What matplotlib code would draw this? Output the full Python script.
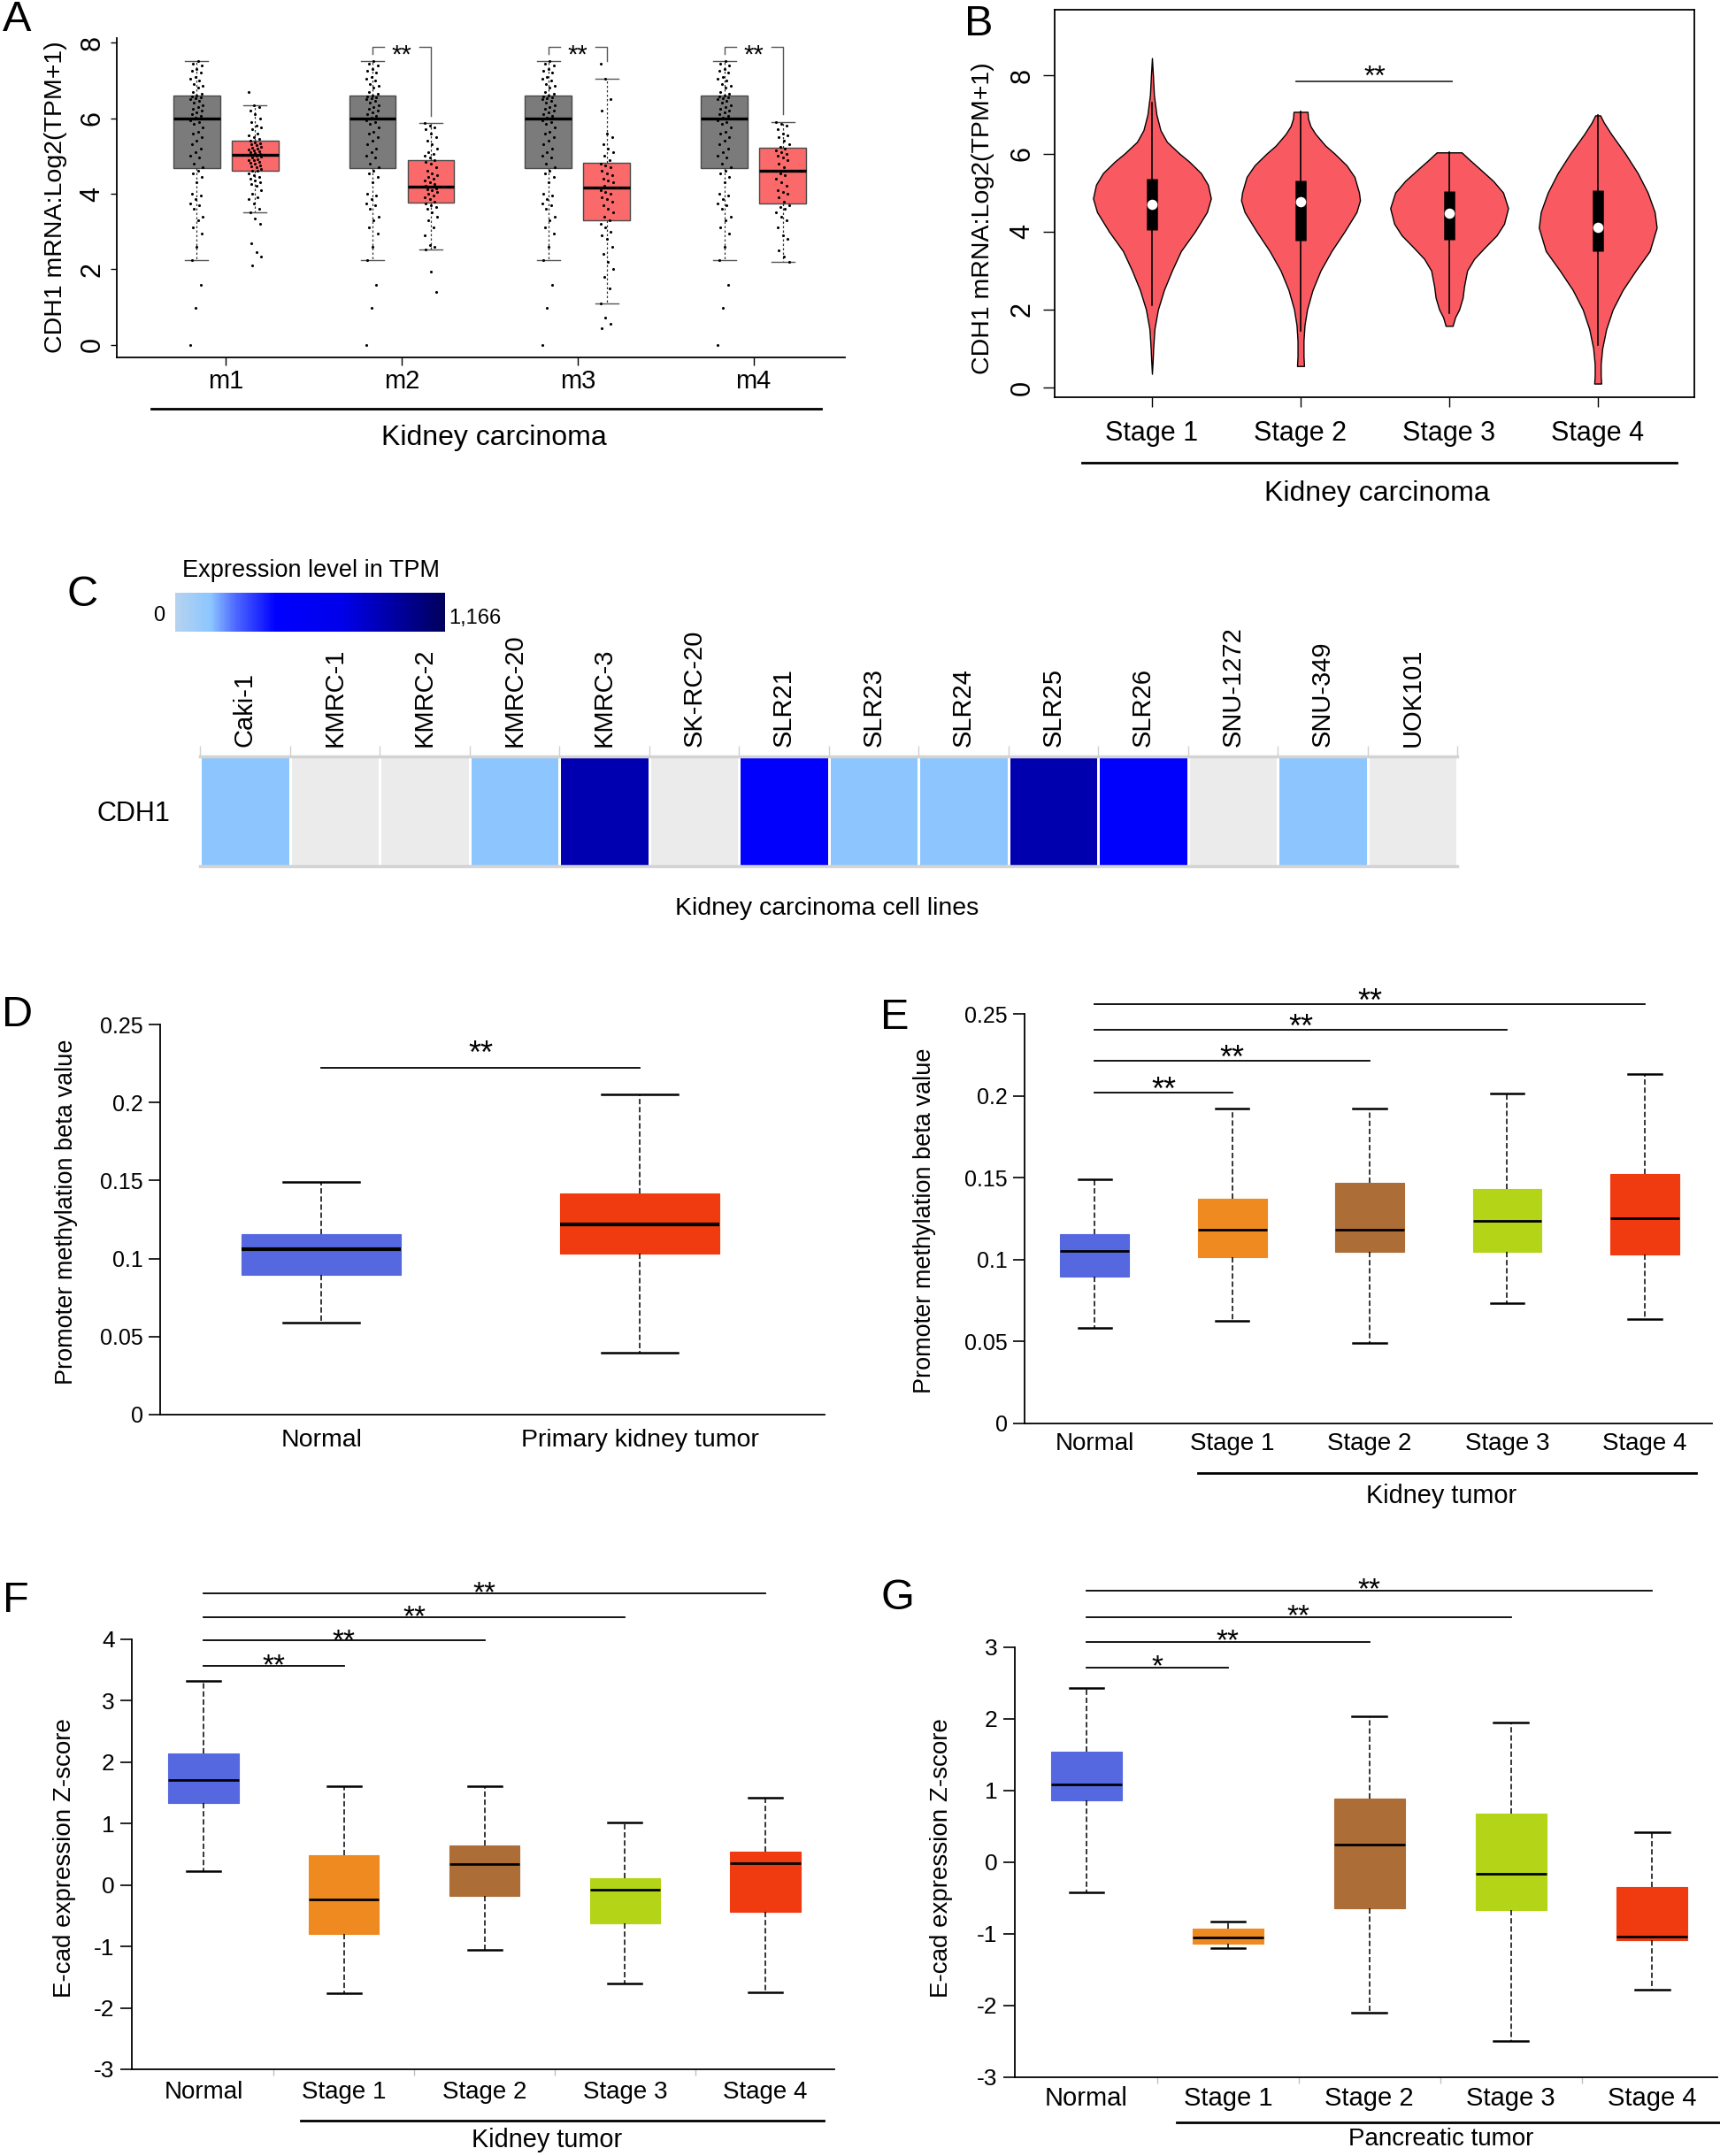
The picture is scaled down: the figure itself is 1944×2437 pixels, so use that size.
import numpy as np
import matplotlib
matplotlib.use('Agg')
import matplotlib.pyplot as plt
from matplotlib.colors import LinearSegmentedColormap

plt.rcParams['font.family'] = ['Liberation Sans', 'DejaVu Sans']

# ---------------- DATA ----------------
# Panel A : CDH1 mRNA, normal (grey) vs tumour (red) for m1..m4
A_groups = ['m1', 'm2', 'm3', 'm4']
A_norm_stats = [2.24, 4.67, 6.0, 6.6, 7.52]           # whislo, q1, med, q3, whishi
A_tum_whislo = [3.5, 2.52, 1.1, 2.2]
A_tum_q1 = [4.6, 3.77, 3.3, 3.75]
A_tum_med = [5.02, 4.18, 4.17, 4.6]
A_tum_q3 = [5.4, 4.9, 4.82, 5.22]
A_tum_whishi = [6.35, 5.88, 7.05, 5.9]
A_norm_points = [0.0, 0.98, 1.6, 2.24, 2.6, 2.95, 3.1, 3.3, 3.4, 3.6, 3.7, 3.75, 3.85, 3.95,
                 4.0, 4.3, 4.45, 4.55, 4.62, 4.7, 4.8, 4.95, 5.0, 5.1, 5.2, 5.3, 5.4, 5.5, 5.6,
                 5.65, 5.75, 5.85, 5.9, 5.95, 6.02, 6.05, 6.1, 6.15, 6.2, 6.25, 6.3, 6.35, 6.4,
                 6.45, 6.5, 6.52, 6.55, 6.58, 6.6, 6.65, 6.7, 6.8, 6.85, 6.9, 7.0, 7.05, 7.1,
                 7.2, 7.25, 7.3, 7.4, 7.45, 7.5]
A_tum_points_m1 = [2.1, 2.35, 2.45, 2.7, 3.2, 3.35, 3.5, 3.6, 3.75, 3.85, 3.9, 4.0, 4.1, 4.2,
                   4.25, 4.3, 4.35, 4.4, 4.45, 4.5, 4.55, 4.6, 4.62, 4.65, 4.7, 4.72, 4.75, 4.8,
                   4.82, 4.85, 4.88, 4.9, 4.92, 4.95, 4.98, 5.0, 5.03, 5.05, 5.08, 5.1, 5.12,
                   5.15, 5.18, 5.2, 5.22, 5.25, 5.28, 5.3, 5.33, 5.36, 5.4, 5.45, 5.5, 5.55,
                   5.6, 5.7, 5.75, 5.8, 5.9, 6.0, 6.1, 6.2, 6.3, 6.35, 6.7]
A_tum_points_m2 = [1.4, 1.95, 2.52, 2.6, 2.65, 2.9, 3.1, 3.3, 3.4, 3.5, 3.6, 3.65, 3.7, 3.75,
                   3.8, 3.85, 3.9, 3.95, 4.0, 4.05, 4.1, 4.12, 4.15, 4.18, 4.2, 4.25, 4.3, 4.35,
                   4.4, 4.45, 4.5, 4.55, 4.6, 4.7, 4.8, 4.85, 4.9, 4.95, 5.0, 5.05, 5.1, 5.2,
                   5.3, 5.4, 5.5, 5.6, 5.7, 5.75, 5.8, 5.88]
A_tum_points_m3 = [0.45, 0.55, 0.72, 1.1, 1.5, 1.8, 2.0, 2.2, 2.4, 2.6, 2.8, 2.9, 3.0, 3.1,
                   3.2, 3.3, 3.4, 3.5, 3.6, 3.7, 3.8, 3.85, 3.9, 4.0, 4.05, 4.1, 4.17, 4.2,
                   4.3, 4.35, 4.4, 4.5, 4.55, 4.6, 4.7, 4.75, 4.8, 4.9, 5.0, 5.1, 5.2, 5.3,
                   5.5, 5.6, 6.2, 6.5, 7.05, 7.44]
A_tum_points_m4 = [2.2, 2.35, 2.5, 2.8, 2.9, 3.1, 3.3, 3.4, 3.5, 3.6, 3.65, 3.7, 3.8, 3.9,
                   4.0, 4.05, 4.1, 4.2, 4.3, 4.4, 4.5, 4.55, 4.62, 4.7, 4.8, 4.9, 4.95, 5.0,
                   5.05, 5.1, 5.15, 5.2, 5.25, 5.3, 5.4, 5.5, 5.55, 5.6, 5.7, 5.8, 5.85, 5.9]
A_tum_points = [A_tum_points_m1, A_tum_points_m2, A_tum_points_m3, A_tum_points_m4]
A_sig_groups = [1, 2, 3]
A_sig_y = 7.88
A_sig_left_end = [7.7, 7.7, 7.7]
A_sig_right_end = [6.05, 7.5, 6.1]

# Panel B : violin by stage
B_stages = ['Stage 1', 'Stage 2', 'Stage 3', 'Stage 4']
B_q1 = [4.03, 3.77, 3.8, 3.5]
B_med = [4.7, 4.77, 4.47, 4.1]
B_q3 = [5.35, 5.32, 5.03, 5.06]
B_whislo = [2.1, 1.45, 1.9, 1.1]
B_whishi = [7.3, 7.07, 6.03, 6.98]
B_prof_y = [
    [0.35, 0.7, 1.0, 1.5, 2.0, 2.5, 3.0, 3.5, 4.0, 4.5, 4.85, 5.2, 5.5, 5.8, 6.0, 6.3, 6.6, 7.0, 7.5, 8.0, 8.45],
    [0.55, 0.8, 1.2, 1.6, 2.0, 2.5, 3.0, 3.5, 4.0, 4.5, 4.8, 5.0, 5.4, 5.7, 6.0, 6.2, 6.5, 6.7, 6.9, 7.07],
    [1.58, 1.8, 2.0, 2.3, 2.6, 3.0, 3.3, 3.6, 3.9, 4.2, 4.6, 5.0, 5.3, 5.6, 5.85, 6.03],
    [0.1, 0.3, 0.6, 1.0, 1.5, 2.0, 2.5, 3.0, 3.5, 4.1, 4.5, 5.0, 5.5, 6.0, 6.5, 6.8, 6.98],
]
B_prof_w = [
    [0, 1.5, 2.5, 5, 12, 24, 40, 58, 86, 110, 118, 112, 98, 74, 55, 30, 17, 9, 4, 2, 0],
    [7, 6, 6, 8, 13, 24, 40, 62, 88, 112, 119, 117, 108, 92, 68, 50, 30, 20, 15, 14],
    [7, 12, 20, 27, 30, 36, 50, 72, 95, 110, 118, 108, 88, 62, 40, 25],
    [7, 6, 6, 9, 17, 30, 50, 76, 104, 118, 114, 100, 80, 55, 27, 12, 5],
]
B_sig = (1, 2, 7.86, '**')

# Panel C : heatmap of cell lines
C_lines = ['Caki-1', 'KMRC-1', 'KMRC-2', 'KMRC-20', 'KMRC-3', 'SK-RC-20', 'SLR21', 'SLR23',
           'SLR24', 'SLR25', 'SLR26', 'SNU-1272', 'SNU-349', 'UOK101']
C_tpm = [150, np.nan, np.nan, 150, 900, np.nan, 466, 150, 150, 910, 460, np.nan, 150, np.nan]
C_vmax = 1166

# Panel D : promoter methylation normal vs tumour
D_groups = ['Normal', 'Primary kidney tumor']
D_whislo = [0.0587, 0.0395]
D_q1 = [0.0895, 0.103]
D_med = [0.106, 0.122]
D_q3 = [0.1155, 0.142]
D_whishi = [0.149, 0.205]
D_sig = [(0, 1, 0.2225, '**')]

# Panel E : promoter methylation by stage
E_groups = ['Normal', 'Stage 1', 'Stage 2', 'Stage 3', 'Stage 4']
E_whislo = [0.0585, 0.0625, 0.049, 0.0735, 0.0635]
E_q1 = [0.0895, 0.1013, 0.1049, 0.1049, 0.1030]
E_med = [0.1052, 0.1181, 0.1181, 0.1235, 0.1252]
E_q3 = [0.1155, 0.1372, 0.1467, 0.1429, 0.1522]
E_whishi = [0.149, 0.192, 0.192, 0.2013, 0.2135]
E_sig = [(0, 1, 0.2022, '**'), (0, 2, 0.2212, '**'), (0, 3, 0.2405, '**'), (0, 4, 0.2562, '**')]

# Panel F : E-cad z-score, kidney
F_groups = ['Normal', 'Stage 1', 'Stage 2', 'Stage 3', 'Stage 4']
F_whislo = [0.22, -1.76, -1.05, -1.61, -1.74]
F_q1 = [1.34, -0.79, -0.18, -0.63, -0.43]
F_med = [1.71, -0.24, 0.34, -0.08, 0.36]
F_q3 = [2.14, 0.48, 0.64, 0.11, 0.55]
F_whishi = [3.33, 1.61, 1.61, 1.02, 1.42]
F_sig = [(0, 1, 3.57, '**'), (0, 2, 3.98, '**'), (0, 3, 4.36, '**'), (0, 4, 4.75, '**')]

# Panel G : E-cad z-score, pancreas
G_groups = ['Normal', 'Stage 1', 'Stage 2', 'Stage 3', 'Stage 4']
G_whislo = [-0.43, -1.2, -2.1, -2.5, -1.78]
G_q1 = [0.86, -1.14, -0.65, -0.67, -1.09]
G_med = [1.08, -1.05, 0.24, -0.17, -1.04]
G_q3 = [1.54, -0.93, 0.88, 0.67, -0.35]
G_whishi = [2.42, -0.83, 2.03, 1.95, 0.41]
G_sig = [(0, 1, 2.71, '*'), (0, 2, 3.07, '**'), (0, 3, 3.41, '**'), (0, 4, 3.78, '**')]

STAGE_COLORS = ['#5568E0', '#EE8A1F', '#AC6D37', '#B3D417', '#F03A10']

# ---------------- FIGURE ----------------
W, H = 1944, 2437
fig = plt.figure(figsize=(W / 100, H / 100), dpi=100)
fig.patch.set_facecolor('white')


def add_ax(l, t, r, b):
    ax = fig.add_axes([l / W, 1 - b / H, (r - l) / W, (b - t) / H])
    ax._px = (l, t, r, b)
    return ax


def ylab(ax, text, px_x, px_y, size):
    l, t, r, b = ax._px
    ax.set_ylabel(text, fontsize=size)
    ax.yaxis.set_label_coords((px_x - l) / (r - l), (b - px_y) / (b - t))
    ax.yaxis.label.set_va('center')
    ax.yaxis.label.set_ha('center')


over = fig.add_axes([0, 0, 1, 1])
over.set_xlim(0, W)
over.set_ylim(H, 0)
over.axis('off')
over.patch.set_visible(False)


def jit(n):
    return ((np.arange(n) * 37) % 11 - 5) / 5 * 0.036


# ---------- Panel A ----------
axA = add_ax(132, 43, 955, 404)
axA.set_xlim(-0.62, 3.52)
axA.set_ylim(-0.33, 8.12)
posA = np.arange(len(A_groups))
stA_n = [dict(whislo=A_norm_stats[0], q1=A_norm_stats[1], med=A_norm_stats[2],
              q3=A_norm_stats[3], whishi=A_norm_stats[4], fliers=[]) for _ in A_groups]
stA_t = [dict(whislo=A_tum_whislo[i], q1=A_tum_q1[i], med=A_tum_med[i], q3=A_tum_q3[i],
              whishi=A_tum_whishi[i], fliers=[]) for i in range(len(A_groups))]
for st, off, col in [(stA_n, -0.166, '#7B7B7B'), (stA_t, 0.166, '#FA6A6A')]:
    axA.bxp(st, positions=posA + off, widths=0.265, patch_artist=True, showfliers=False,
            manage_ticks=False, capwidths=0.13,
            boxprops=dict(facecolor=col, edgecolor='#4A4A4A', linewidth=1.0),
            medianprops=dict(color='black', linewidth=2.4),
            whiskerprops=dict(color='#333333', linewidth=0.9, linestyle=(0, (2, 2))),
            capprops=dict(color='#555555', linewidth=1.0))
for i in range(len(A_groups)):
    yn = np.array(A_norm_points)
    axA.scatter(i - 0.166 + jit(len(yn)), yn, s=5, c='black', lw=0, zorder=5)
    yt = np.array(A_tum_points[i])
    axA.scatter(i + 0.166 + jit(len(yt))[::-1], yt, s=5, c='black', lw=0, zorder=5)
for k, gi in enumerate(A_sig_groups):
    xl, xr = gi - 0.166, gi + 0.166
    axA.plot([xl, xl, gi - 0.1], [A_sig_left_end[k], A_sig_y, A_sig_y], color='#555555', lw=1.0, clip_on=False)
    axA.plot([gi + 0.1, xr, xr], [A_sig_y, A_sig_y, A_sig_right_end[k]], color='#555555', lw=1.0, clip_on=False)
    axA.annotate('**', xy=(gi, A_sig_y), xytext=(0, -7), textcoords='offset points',
                 ha='center', va='center', fontsize=21, annotation_clip=False)
for s in ['top', 'right']:
    axA.spines[s].set_visible(False)
for s in ['left', 'bottom']:
    axA.spines[s].set_linewidth(1.3)
axA.set_yticks([0, 2, 4, 6, 8])
axA.set_yticklabels(['0', '2', '4', '6', '8'], rotation=90, va='center')
axA.set_xticks(posA)
axA.set_xticklabels(A_groups)
axA.tick_params(axis='y', labelsize=22, length=5, width=1.0, pad=4)
axA.tick_params(axis='x', labelsize=21, length=6.5, width=1.0, pad=3)
ylab(axA, 'CDH1 mRNA:Log2(TPM+1)', 63, 223, 20.5)

# ---------- Panel B ----------
axB = add_ax(1192, 11, 1915, 449)
axB.set_xlim(-0.655, 3.65)
axB.set_ylim(-0.25, 9.69)
for k in range(len(B_stages)):
    y = np.array(B_prof_y[k])
    w = np.array(B_prof_w[k]) * (0.40 / 119)
    axB.fill_betweenx(y, k - w, k + w, facecolor='#F95A62', edgecolor='black', lw=1.0, zorder=2)
    axB.plot([k, k], [B_whislo[k], B_whishi[k]], color='black', lw=1.2, zorder=3)
    axB.plot([k, k], [B_q1[k], B_q3[k]], color='black', lw=9, solid_capstyle='butt', zorder=4)
    axB.scatter([k], [B_med[k]], s=70, c='white', lw=0, zorder=5)
i0, i1, ys, txt = B_sig
axB.plot([i0 - 0.03, i1 + 0.02], [ys, ys], color='#333333', lw=1.3)
axB.annotate(txt, xy=((i0 + i1) / 2, ys), xytext=(0, -3), textcoords='offset points',
             ha='center', va='baseline', fontsize=23)
for s in axB.spines.values():
    s.set_linewidth(1.3)
axB.set_yticks([0, 2, 4, 6, 8])
axB.set_yticklabels(['0', '2', '4', '6', '8'], rotation=90, va='center')
axB.set_xticks(range(len(B_stages)))
axB.set_xticklabels(B_stages)
axB.tick_params(axis='y', labelsize=22, length=9.5, width=1.0, pad=6)
axB.tick_params(axis='x', labelsize=22, length=8, width=1.0, pad=11)
ylab(axB, 'CDH1 mRNA:Log2(TPM+1)', 1111, 247, 20.5)

# ---------- Panel C ----------
cmap = LinearSegmentedColormap.from_list(
    'tpm', [(0, '#B6D3EF'), (0.13, '#8CC6FF'), (0.22, '#4F6BFF'), (0.37, '#0000FF'),
            (0.62, '#0000EA'), (1.0, '#00005C')])
cmap.set_bad('#EBEBEB')
axC = add_ax(226, 855, 1647, 979)
mesh = axC.pcolormesh(np.ma.masked_invalid(np.array([C_tpm], dtype=float)), cmap=cmap,
                      vmin=0, vmax=C_vmax, edgecolors='white', linewidth=1.0)
axC.set_xlim(0, len(C_lines))
axC.set_ylim(0, 1)
axC.xaxis.set_ticks_position('top')
axC.set_xticks(np.arange(len(C_lines)) + 0.5)
axC.set_xticklabels(C_lines, rotation=90, ha='center', va='bottom')
axC.set_xticks(np.arange(len(C_lines) + 1), minor=True)
axC.tick_params(axis='x', which='major', length=0, labelsize=21, pad=8)
axC.tick_params(axis='x', which='minor', length=9, width=1.0, color='#D0D0D0', top=True, bottom=False)
axC.set_yticks([0.5])
axC.set_yticklabels(['CDH1'])
axC.tick_params(axis='y', length=0, labelsize=22, pad=24)
for s in ['left', 'right']:
    axC.spines[s].set_visible(False)
for s in ['top', 'bottom']:
    axC.spines[s].set_color('#D3D3D3')
    axC.spines[s].set_linewidth(2.5)
cax = add_ax(198, 670, 503, 714)
cb = fig.colorbar(mesh, cax=cax, orientation='horizontal')
cb.set_ticks([])
cb.outline.set_visible(False)
over.text(351, 645, 'Expression level in TPM', ha='center', va='center', fontsize=19.5)
over.text(180, 696, '0', ha='center', va='center', fontsize=17)
over.text(507, 699, f'{C_vmax:,}', ha='left', va='center', fontsize=17)
over.text(935, 1027, 'Kidney carcinoma cell lines', ha='center', va='center', fontsize=20.5)


# ---------- Panels D-G (box plots) ----------
def stage_panel(ax, groups, wl, q1, med, q3, wh, colors, sigs, star_off, medlw,
                ylim, xlim, yticks, yticklabels, ytsize, xtsize, xpad, star_size=22, minor=False):
    stats = [dict(whislo=wl[i], q1=q1[i], med=med[i], q3=q3[i], whishi=wh[i], fliers=[])
             for i in range(len(groups))]
    bp = ax.bxp(stats, positions=range(len(groups)), widths=0.5, patch_artist=True,
                showfliers=False, manage_ticks=False, capwidths=0.24,
                medianprops=dict(color='black', linewidth=medlw),
                whiskerprops=dict(color='black', linewidth=1.1, linestyle=(0, (4, 2))),
                capprops=dict(color='black', linewidth=1.8))
    for patch, c in zip(bp['boxes'], colors):
        patch.set_facecolor(c)
        patch.set_edgecolor(c)
        patch.set_linewidth(0.8)
    for i0, i1, ys, txt in sigs:
        ax.plot([i0, i1], [ys, ys], color='black', lw=1.3, clip_on=False)
        ax.annotate(txt, xy=((i0 + i1) / 2, ys), xytext=(0, star_off), textcoords='offset points',
                    ha='center', va='baseline', fontsize=star_size, annotation_clip=False)
    ax.set_xlim(*xlim)
    ax.set_ylim(*ylim)
    for s in ['top', 'right']:
        ax.spines[s].set_visible(False)
    for s in ['left', 'bottom']:
        ax.spines[s].set_linewidth(1.3)
    ax.set_yticks(yticks)
    ax.set_yticklabels(yticklabels)
    ax.set_xticks(range(len(groups)))
    ax.set_xticklabels(groups)
    ax.tick_params(axis='y', labelsize=ytsize, length=9.4, width=1.2, pad=4.5)
    ax.tick_params(axis='x', labelsize=xtsize, length=0, pad=xpad)
    if minor:
        ax.set_xticks(np.arange(len(groups) - 1) + 0.5, minor=True)
        ax.tick_params(axis='x', which='minor', length=5, width=1.0, color='#C0C0C0')


meth_ticks = [0, 0.05, 0.1, 0.15, 0.2, 0.25]
meth_labels = ['0', '0.05', '0.1', '0.15', '0.2', '0.25']

axD = add_ax(181, 1158, 932, 1599)
stage_panel(axD, D_groups, D_whislo, D_q1, D_med, D_q3, D_whishi,
            [STAGE_COLORS[0], STAGE_COLORS[4]], D_sig, 3, 3.0,
            (0, 0.25), (-0.506, 1.58), meth_ticks, meth_labels, 18, 20.5, 11.5, star_size=26)
ylab(axD, 'Promoter methylation beta value', 75, 1370, 19.5)

axE = add_ax(1158, 1146, 1935, 1609)
stage_panel(axE, E_groups, E_whislo, E_q1, E_med, E_q3, E_whishi, STAGE_COLORS, E_sig,
            -5.8, 2.0, (0, 0.25), (-0.51, 4.49), meth_ticks, meth_labels, 18, 20, 7, star_size=26)
ylab(axE, 'Promoter methylation beta value', 1045, 1380, 19.5)

axF = add_ax(149, 1853, 943, 2339)
stage_panel(axF, F_groups, F_whislo, F_q1, F_med, F_q3, F_whishi, STAGE_COLORS, F_sig,
            -7, 2.0, (-3, 4), (-0.51, 4.49), list(range(-3, 5)),
            [str(v) for v in range(-3, 5)], 19, 20, 9.4, star_size=24, minor=True)
ylab(axF, 'E-cad expression Z-score', 73, 2100, 20)

axG = add_ax(1147, 1861.5, 1941, 2347.7)
stage_panel(axG, G_groups, G_whislo, G_q1, G_med, G_q3, G_whishi, STAGE_COLORS, G_sig,
            -5.8, 2.0, (-3, 3), (-0.506, 4.46), list(range(-3, 4)),
            [str(v) for v in range(-3, 4)], 19, 21, 7.6, star_size=24, minor=True)
ylab(axG, 'E-cad expression Z-score', 1064, 2100, 20)

# ---------- group brackets and captions (figure pixel space) ----------
for x0, x1, y, txt, tx, ty, sz in [
        (171, 928, 462, 'Kidney carcinoma', 558, 495, 23),
        (1223, 1895, 523, 'Kidney carcinoma', 1556, 558, 23),
        (1354, 1917, 1665, 'Kidney tumor', 1629, 1691, 20.8),
        (340, 931, 2397, 'Kidney tumor', 618, 2419, 20.8),
        (1330, 1944, 2399, 'Pancreatic tumor', 1629, 2418, 20)]:
    over.plot([x0, x1], [y, y], color='black', lw=2.0)
    over.text(tx, ty, txt, ha='center', va='center', fontsize=sz)

# ---------- panel letters ----------
for letter, x, y in [('A', 3, 0), ('B', 1090, 5), ('C', 75, 650), ('D', 2, 1125),
                     ('E', 995, 1128), ('F', 3, 1787), ('G', 995, 1784)]:
    over.text(x, y, letter, ha='left', va='top', fontsize=35)

fig.savefig('out.png', dpi=100, facecolor='white')
